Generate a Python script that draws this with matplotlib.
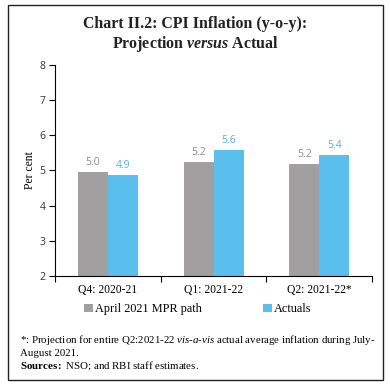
import matplotlib
matplotlib.use("Agg")
import matplotlib.pyplot as plt
import numpy as np
from matplotlib.patches import Rectangle

categories = ["Q4: 2020-21", "Q1: 2021-22", "Q2: 2021-22*"]
mpr_path = [4.96, 5.24, 5.18]
actuals = [4.87, 5.59, 5.43]
series_names = ["April 2021 MPR path", "Actuals"]
yticks = [2, 3, 4, 5, 6, 7, 8]

gray = "#A19F9F"
blue = "#5BBFEE"
serif = "Liberation Serif"
sans = "Open Sans"

plt.rcParams["mathtext.fontset"] = "custom"
plt.rcParams["mathtext.rm"] = "Liberation Serif"
plt.rcParams["mathtext.it"] = "Liberation Serif:italic"
plt.rcParams["mathtext.bf"] = "Liberation Serif:bold"
plt.rcParams["mathtext.bfit"] = "Liberation Serif:italic:bold"

fig = plt.figure(figsize=(3.9, 3.88), dpi=100)
ax = fig.add_axes([0.141, 0.2887, 0.813, 0.5438])

x = np.arange(len(categories))
w = 0.284
b1 = ax.bar(x - w / 2, mpr_path, w, color=gray, label=series_names[0])
b2 = ax.bar(x + w / 2, actuals, w, color=blue, label=series_names[1])

for rect, v in zip(b1, mpr_path):
    ax.text(rect.get_x() + rect.get_width() / 2, v + 0.12, f"{v:.1f}",
            ha="center", va="bottom", fontsize=7.5, color="#8C8C8C", family=sans)
for rect, v in zip(b2, actuals):
    ax.text(rect.get_x() + rect.get_width() / 2, v + 0.12, f"{v:.1f}",
            ha="center", va="bottom", fontsize=7.5, color="#4FB3E8", family=sans)

ax.set_ylim(2, 8)
ax.set_xlim(-0.5, len(categories) - 0.5)
ax.set_yticks(yticks)
ax.set_yticklabels([str(t) for t in yticks], family=sans, fontsize=7.5, color="#333333")
ax.set_xticks(np.arange(-0.5, len(categories), 1.0))
ax.set_xticklabels([])
ax.set_xticks(x, minor=True)
ax.set_xticklabels(categories, minor=True, family=serif, fontsize=8.4)
ax.tick_params(axis="x", which="minor", length=0, pad=6)
ax.tick_params(axis="x", which="major", length=4, direction="out", width=0.8)
ax.tick_params(axis="y", length=4, direction="out", width=0.8, pad=3)
for s in ["top", "right"]:
    ax.spines[s].set_visible(False)
for s in ["left", "bottom"]:
    ax.spines[s].set_linewidth(0.8)
ax.set_ylabel("Per cent", family=serif, fontsize=8.4, labelpad=2)

leg = fig.legend(handles=[b1, b2], labels=series_names, loc="center",
                 bbox_to_anchor=(0.508, 0.203), ncol=2, frameon=False,
                 prop={"family": serif, "size": 8.8}, handlelength=0.7,
                 handleheight=0.7, handletextpad=0.2, columnspacing=5.0)

fig.text(0.5, 0.938, "Chart II.2: CPI Inflation (y-o-y):", ha="center", va="center",
         family=serif, fontsize=11.4, fontweight="bold", color="#222222")
fig.text(0.5, 0.886, r"Projection $\mathbfit{versus}$ Actual", ha="center", va="center",
         family=serif, fontsize=11.4, fontweight="bold", color="#222222")

fig.text(0.052, 0.1237,
         r"*: Projection for entire Q2:2021-22 $\mathit{vis}$-$\mathit{a}$-$\mathit{vis}$ actual average inflation during July-",
         ha="left", va="center", family=serif, fontsize=7.8)
fig.text(0.052, 0.0902, "August 2021.", ha="left", va="center", family=serif, fontsize=7.8)
fig.text(0.052, 0.0567, r"$\mathbf{Sources:}$ NSO; and RBI staff estimates.", ha="left",
         va="center", family=serif, fontsize=7.8)

fig.add_artist(Rectangle((0.0205, 0.0206), 0.9615, 0.9664, transform=fig.transFigure,
                         fill=False, edgecolor="#222222", linewidth=1.0))

fig.savefig("out.png", dpi=100)
